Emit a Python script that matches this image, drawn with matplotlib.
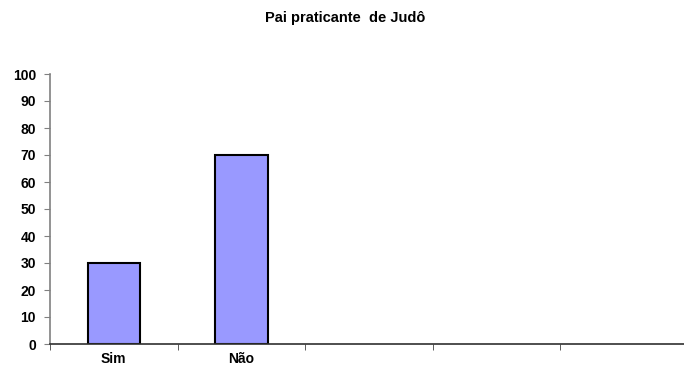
import matplotlib.pyplot as plt
import numpy as np

plt.rcParams['font.family'] = ['Liberation Sans', 'DejaVu Sans']

categories = ['Sim', 'Não', '', '', '']
values = [30, 70, 0, 0, 0]
yticks = list(range(0, 101, 10))

fig = plt.figure(figsize=(6.84, 3.67), dpi=100)
ax = fig.add_axes([50/684, 23/367, 638/684, 270/367])

x = np.arange(len(categories))
ax.bar(x[:2], values[:2], width=0.41, color='#9999ff', edgecolor='black', linewidth=1.5)

ax.set_xlim(-0.5, len(categories) - 0.5)
ax.set_ylim(0, 100)
ax.set_yticks(yticks)
ax.set_yticklabels([str(v) for v in yticks], fontsize=10, fontweight='bold')
ax.set_xticks(x)
ax.set_xticklabels(categories, fontsize=10, fontweight='bold')
ax.set_xticks(np.arange(len(categories) + 1) - 0.5, minor=True)
ax.tick_params(axis='x', which='major', length=0, pad=6)
ax.tick_params(axis='x', which='minor', length=4, color='#404040', direction='out')
ax.tick_params(axis='y', length=4, color='#808080', direction='out', pad=6)

for s in ['top', 'right']:
    ax.spines[s].set_visible(False)
ax.spines['left'].set_color('#808080')
ax.spines['left'].set_linewidth(1.2)
ax.spines['bottom'].set_color('#303030')
ax.spines['bottom'].set_linewidth(1.2)

fig.text(345/684, 1 - 18/367, 'Pai praticante  de Judô', ha='center', va='center',
         fontsize=10.5, fontweight='bold')

fig.savefig('out.png', dpi=100)
